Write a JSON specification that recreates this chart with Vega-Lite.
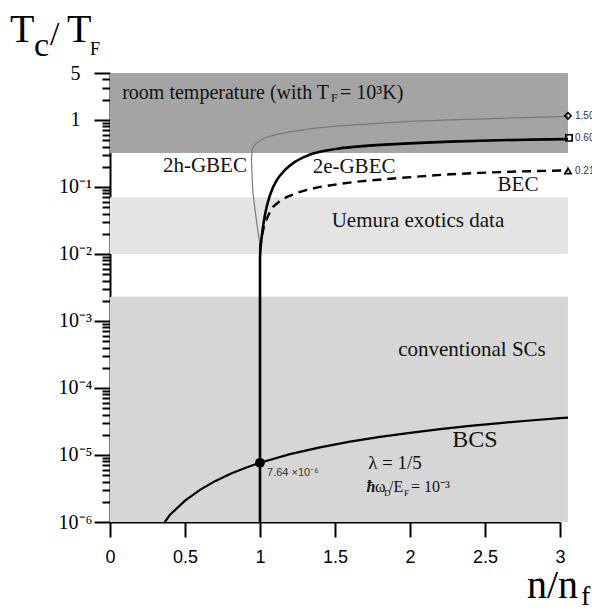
{
  "$schema": "https://vega.github.io/schema/vega-lite/v6.json",
  "width": 450,
  "height": 449,
  "autosize": {"type": "none"},
  "padding": {"left": 110, "top": 73, "right": 32, "bottom": 88},
  "background": "white",
  "config": {"view": {"stroke": null}, "axis": {"grid": false}},
  "datasets": {
    "bands": [
      {"b": "room", "x1": 0, "x2": 3.053, "lo": 0.32, "hi": 5},
      {"b": "uemura", "x1": 0, "x2": 3.053, "lo": 0.01, "hi": 0.07},
      {"b": "conv", "x1": 0, "x2": 3.053, "lo": 1e-6, "hi": 0.0023}
    ],
    "curves": [
      {"s": "e", "i": 0, "x": 1.0, "y": 1e-6},
      {"s": "e", "i": 1, "x": 1.0, "y": 0.00902},
      {"s": "e", "i": 2, "x": 1.013, "y": 0.0192},
      {"s": "e", "i": 3, "x": 1.033, "y": 0.0382},
      {"s": "e", "i": 4, "x": 1.067, "y": 0.076},
      {"s": "e", "i": 5, "x": 1.113, "y": 0.127},
      {"s": "e", "i": 6, "x": 1.167, "y": 0.179},
      {"s": "e", "i": 7, "x": 1.233, "y": 0.236},
      {"s": "e", "i": 8, "x": 1.313, "y": 0.29},
      {"s": "e", "i": 9, "x": 1.4, "y": 0.333},
      {"s": "e", "i": 10, "x": 1.533, "y": 0.3755},
      {"s": "e", "i": 11, "x": 1.667, "y": 0.402},
      {"s": "e", "i": 12, "x": 1.867, "y": 0.431},
      {"s": "e", "i": 13, "x": 2.067, "y": 0.4535},
      {"s": "e", "i": 14, "x": 2.267, "y": 0.4727},
      {"s": "e", "i": 15, "x": 2.533, "y": 0.4926},
      {"s": "e", "i": 16, "x": 2.8, "y": 0.5064},
      {"s": "e", "i": 17, "x": 3.053, "y": 0.517},
      {"s": "b", "i": 0, "x": 1.0, "y": 0.0115},
      {"s": "b", "i": 1, "x": 1.013, "y": 0.0192},
      {"s": "b", "i": 2, "x": 1.033, "y": 0.029},
      {"s": "b", "i": 3, "x": 1.06, "y": 0.0395},
      {"s": "b", "i": 4, "x": 1.087, "y": 0.0503},
      {"s": "b", "i": 5, "x": 1.133, "y": 0.0618},
      {"s": "b", "i": 6, "x": 1.18, "y": 0.0709},
      {"s": "b", "i": 7, "x": 1.247, "y": 0.0813},
      {"s": "b", "i": 8, "x": 1.313, "y": 0.0902},
      {"s": "b", "i": 9, "x": 1.4, "y": 0.1},
      {"s": "b", "i": 10, "x": 1.533, "y": 0.111},
      {"s": "b", "i": 11, "x": 1.667, "y": 0.121},
      {"s": "b", "i": 12, "x": 1.867, "y": 0.132},
      {"s": "b", "i": 13, "x": 2.067, "y": 0.1435},
      {"s": "b", "i": 14, "x": 2.267, "y": 0.154},
      {"s": "b", "i": 15, "x": 2.467, "y": 0.162},
      {"s": "b", "i": 16, "x": 2.733, "y": 0.17},
      {"s": "b", "i": 17, "x": 3.053, "y": 0.176},
      {"s": "h", "i": 0, "x": 1.0, "y": 0.0136},
      {"s": "h", "i": 1, "x": 0.993, "y": 0.0173},
      {"s": "h", "i": 2, "x": 0.98, "y": 0.0271},
      {"s": "h", "i": 3, "x": 0.967, "y": 0.0454},
      {"s": "h", "i": 4, "x": 0.953, "y": 0.0813},
      {"s": "h", "i": 5, "x": 0.947, "y": 0.151},
      {"s": "h", "i": 6, "x": 0.943, "y": 0.253},
      {"s": "h", "i": 7, "x": 0.947, "y": 0.357},
      {"s": "h", "i": 8, "x": 0.96, "y": 0.409},
      {"s": "h", "i": 9, "x": 0.987, "y": 0.469},
      {"s": "h", "i": 10, "x": 1.033, "y": 0.539},
      {"s": "h", "i": 11, "x": 1.1, "y": 0.597},
      {"s": "h", "i": 12, "x": 1.2, "y": 0.662},
      {"s": "h", "i": 13, "x": 1.353, "y": 0.747},
      {"s": "h", "i": 14, "x": 1.533, "y": 0.814},
      {"s": "h", "i": 15, "x": 1.733, "y": 0.872},
      {"s": "h", "i": 16, "x": 2.0, "y": 0.95},
      {"s": "h", "i": 17, "x": 2.267, "y": 1.0},
      {"s": "h", "i": 18, "x": 2.6, "y": 1.053},
      {"s": "h", "i": 19, "x": 3.053, "y": 1.128},
      {"s": "s", "i": 0, "x": 0.365, "y": 1.0e-6},
      {"s": "s", "i": 1, "x": 0.4, "y": 1.28e-6},
      {"s": "s", "i": 2, "x": 0.5, "y": 2.08e-6},
      {"s": "s", "i": 3, "x": 0.6, "y": 3.02e-6},
      {"s": "s", "i": 4, "x": 0.7, "y": 4.07e-6},
      {"s": "s", "i": 5, "x": 0.8, "y": 5.2e-6},
      {"s": "s", "i": 6, "x": 0.9, "y": 6.39e-6},
      {"s": "s", "i": 7, "x": 1.0, "y": 7.64e-6},
      {"s": "s", "i": 8, "x": 1.2, "y": 1.03e-5},
      {"s": "s", "i": 9, "x": 1.4, "y": 1.3e-5},
      {"s": "s", "i": 10, "x": 1.6, "y": 1.58e-5},
      {"s": "s", "i": 11, "x": 1.8, "y": 1.86e-5},
      {"s": "s", "i": 12, "x": 2.0, "y": 2.14e-5},
      {"s": "s", "i": 13, "x": 2.2, "y": 2.43e-5},
      {"s": "s", "i": 14, "x": 2.4, "y": 2.71e-5},
      {"s": "s", "i": 15, "x": 2.6, "y": 2.99e-5},
      {"s": "s", "i": 16, "x": 2.8, "y": 3.27e-5},
      {"s": "s", "i": 17, "x": 3.0, "y": 3.54e-5},
      {"s": "s", "i": 18, "x": 3.053, "y": 3.61e-5}
    ]
  },
  "layer": [
    {
      "data": {"name": "bands"},
      "mark": {"type": "rect", "clip": false},
      "encoding": {
        "x": {
          "field": "x1", "type": "quantitative", "title": null,
          "scale": {"domain": [0, 3], "nice": false, "zero": false},
          "axis": {
            "title": null, "values": [0, 0.5, 1, 1.5, 2, 2.5, 3], "format": ".1~f",
            "tickSize": 15, "tickWidth": 2, "tickColor": "black",
            "domainColor": "black", "domainWidth": 2,
            "labelFont": "Liberation Sans, Arial, sans-serif", "labelFontSize": 18, "labelColor": "black",
            "labelPadding": 11, "labelFlush": false, "labelBound": false, "labelOverlap": false
          }
        },
        "x2": {"field": "x2"},
        "y": {
          "field": "lo", "type": "quantitative", "title": null,
          "scale": {"type": "log", "domain": [1e-6, 5], "nice": false},
          "axis": {
            "title": null,
            "values": [1e-6, 2e-6, 3e-6, 4e-6, 5e-6, 6e-6, 7e-6, 8e-6, 9e-6,
                       1e-5, 2e-5, 3e-5, 4e-5, 5e-5, 6e-5, 7e-5, 8e-5, 9e-5,
                       1e-4, 2e-4, 3e-4, 4e-4, 5e-4, 6e-4, 7e-4, 8e-4, 9e-4,
                       1e-3, 2e-3, 3e-3, 4e-3, 5e-3, 6e-3, 7e-3, 8e-3, 9e-3,
                       0.01, 0.02, 0.03, 0.04, 0.05, 0.06, 0.07, 0.08, 0.09,
                       0.1, 0.2, 0.3, 0.4, 0.5, 0.6, 0.7, 0.8, 0.9,
                       1, 2, 3, 4, 5],
            "labelExpr": "datum.value == 5 ? '5' : (datum.value == 1 ? '1' : (abs(log(datum.value)/LN10 - round(log(datum.value)/LN10)) < 0.001 ? '10' + ['', '⁻¹', '⁻²', '⁻³', '⁻⁴', '⁻⁵', '⁻⁶'][-round(log(datum.value)/LN10)] : ''))",
            "tickSize": 16, "tickWidth": 2, "tickColor": "black",
            "tickDash": {"condition": {"test": "abs(log(datum.value)/LN10 - round(log(datum.value)/LN10)) > 0.001 && datum.value != 5", "value": [8, 30]}, "value": []},
            "domainColor": "black", "domainWidth": 2,
            "labelFont": "Liberation Serif, Times New Roman, serif", "labelFontSize": 20, "labelColor": "black",
            "labelAlign": "center", "labelPadding": 19,
            "labelFlush": false, "labelBound": false, "labelOverlap": false
          }
        },
        "y2": {"field": "hi"},
        "color": {"field": "b", "type": "nominal", "scale": {"domain": ["room", "uemura", "conv"], "range": ["#a4a4a4", "#e4e4e4", "#d6d6d6"]}, "legend": null}
      }
    },
    {
      "data": {"name": "curves"},
      "transform": [{"filter": "datum.s == 'h'"}],
      "mark": {"type": "line", "clip": false, "color": "#7a7a7a", "strokeWidth": 1.2},
      "encoding": {
        "x": {"field": "x", "type": "quantitative", "title": null},
        "y": {"field": "y", "type": "quantitative", "title": null},
        "order": {"field": "i", "type": "quantitative"}
      }
    },
    {
      "data": {"name": "curves"},
      "transform": [{"filter": "datum.s == 'b'"}],
      "mark": {"type": "line", "clip": false, "color": "black", "strokeWidth": 2.4, "strokeDash": [9, 6]},
      "encoding": {
        "x": {"field": "x", "type": "quantitative", "title": null},
        "y": {"field": "y", "type": "quantitative", "title": null},
        "order": {"field": "i", "type": "quantitative"}
      }
    },
    {
      "data": {"name": "curves"},
      "transform": [{"filter": "datum.s == 'e'"}],
      "mark": {"type": "line", "clip": false, "color": "black", "strokeWidth": 2.6, "interpolate": "monotone"},
      "encoding": {
        "x": {"field": "x", "type": "quantitative", "title": null},
        "y": {"field": "y", "type": "quantitative", "title": null},
        "order": {"field": "i", "type": "quantitative"}
      }
    },
    {
      "data": {"name": "curves"},
      "transform": [{"filter": "datum.s == 's'"}],
      "mark": {"type": "line", "clip": false, "color": "black", "strokeWidth": 2.2},
      "encoding": {
        "x": {"field": "x", "type": "quantitative", "title": null},
        "y": {"field": "y", "type": "quantitative", "title": null},
        "order": {"field": "i", "type": "quantitative"}
      }
    },
    {
      "data": {"values": [{"x": 1, "y": 7.64e-6}]},
      "mark": {"type": "point", "filled": true, "color": "black", "size": 95, "opacity": 1, "clip": false},
      "encoding": {
        "x": {"field": "x", "type": "quantitative", "title": null},
        "y": {"field": "y", "type": "quantitative", "title": null}
      }
    },
    {
      "data": {"values": [{"m": "d", "x": 3.053, "y": 1.147}, {"m": "s", "x": 3.06, "y": 0.539}, {"m": "t", "x": 3.053, "y": 0.173}]},
      "mark": {"type": "point", "filled": false, "stroke": "black", "strokeWidth": 1.6, "size": 40, "opacity": 1, "clip": false},
      "encoding": {
        "x": {"field": "x", "type": "quantitative", "title": null},
        "y": {"field": "y", "type": "quantitative", "title": null},
        "shape": {"field": "m", "type": "nominal", "scale": {"domain": ["d", "s", "t"], "range": ["diamond", "square", "triangle-up"]}, "legend": null}
      }
    },
    {
      "data": {"values": [{"t": "1.50", "x": 3.1, "y": 1.147}, {"t": "0.60", "x": 3.1, "y": 0.539}, {"t": "0.218", "x": 3.1, "y": 0.173}]},
      "mark": {"type": "text", "font": "Liberation Sans, Arial, sans-serif", "fontSize": 10, "color": "#333", "align": "left", "baseline": "middle", "clip": false},
      "encoding": {
        "x": {"field": "x", "type": "quantitative", "title": null},
        "y": {"field": "y", "type": "quantitative", "title": null},
        "text": {"field": "t"}
      }
    },
    {
      "data": {"values": [{"t": "T", "x": -0.667, "y": 14.6}, {"t": "T", "x": -0.287, "y": 14.6}, {"t": "n/n", "x": 2.78, "y": 7.34e-8}]},
      "mark": {"type": "text", "font": "Liberation Serif, Times New Roman, serif", "fontSize": 40, "color": "black", "align": "left", "baseline": "alphabetic", "clip": false},
      "encoding": {
        "x": {"field": "x", "type": "quantitative", "title": null},
        "y": {"field": "y", "type": "quantitative", "title": null},
        "text": {"field": "t"}
      }
    },
    {
      "data": {"values": [{"t": "c", "x": -0.507, "y": 9.02}, {"t": "/", "x": -0.4, "y": 13.2}]},
      "mark": {"type": "text", "font": "Liberation Serif, Times New Roman, serif", "fontSize": 34, "color": "black", "align": "left", "baseline": "alphabetic", "clip": false},
      "encoding": {
        "x": {"field": "x", "type": "quantitative", "title": null},
        "y": {"field": "y", "type": "quantitative", "title": null},
        "text": {"field": "t"}
      }
    },
    {
      "data": {"values": [{"t": "F", "x": -0.133, "y": 9.34}]},
      "mark": {"type": "text", "font": "Liberation Serif, Times New Roman, serif", "fontSize": 18, "color": "black", "align": "left", "baseline": "alphabetic", "clip": false},
      "encoding": {
        "x": {"field": "x", "type": "quantitative", "title": null},
        "y": {"field": "y", "type": "quantitative", "title": null},
        "text": {"field": "t"}
      }
    },
    {
      "data": {"values": [{"t": "f", "x": 3.14, "y": 5.77e-8}]},
      "mark": {"type": "text", "font": "Liberation Serif, Times New Roman, serif", "fontSize": 28, "color": "black", "align": "left", "baseline": "alphabetic", "clip": false},
      "encoding": {
        "x": {"field": "x", "type": "quantitative", "title": null},
        "y": {"field": "y", "type": "quantitative", "title": null},
        "text": {"field": "t"}
      }
    },
    {
      "data": {"values": [
        {"t": "2h-GBEC", "x": 0.633, "y": 0.206},
        {"t": "2e-GBEC", "x": 1.627, "y": 0.199},
        {"t": "BEC", "x": 2.72, "y": 0.107},
        {"t": "Uemura exotics data", "x": 2.053, "y": 0.0312},
        {"t": "conventional SCs", "x": 2.413, "y": 3.69e-4}
      ]},
      "mark": {"type": "text", "font": "Liberation Serif, Times New Roman, serif", "fontSize": 21, "color": "#111", "align": "center", "baseline": "middle", "clip": false},
      "encoding": {
        "x": {"field": "x", "type": "quantitative", "title": null},
        "y": {"field": "y", "type": "quantitative", "title": null},
        "text": {"field": "t"}
      }
    },
    {
      "data": {"values": [{"t": "room temperature (with T", "x": 1.46, "y": 2.53}]},
      "mark": {"type": "text", "font": "Liberation Serif, Times New Roman, serif", "fontSize": 20, "color": "#111", "align": "right", "baseline": "middle", "clip": false},
      "encoding": {
        "x": {"field": "x", "type": "quantitative", "title": null},
        "y": {"field": "y", "type": "quantitative", "title": null},
        "text": {"field": "t"}
      }
    },
    {
      "data": {"values": [{"t": "= 10³K)", "x": 1.533, "y": 2.53}]},
      "mark": {"type": "text", "font": "Liberation Serif, Times New Roman, serif", "fontSize": 20, "color": "#111", "align": "left", "baseline": "middle", "clip": false},
      "encoding": {
        "x": {"field": "x", "type": "quantitative", "title": null},
        "y": {"field": "y", "type": "quantitative", "title": null},
        "text": {"field": "t"}
      }
    },
    {
      "data": {"values": [{"t": "F", "x": 1.473, "y": 2.13}]},
      "mark": {"type": "text", "font": "Liberation Serif, Times New Roman, serif", "fontSize": 12, "color": "#111", "align": "left", "baseline": "middle", "clip": false},
      "encoding": {
        "x": {"field": "x", "type": "quantitative", "title": null},
        "y": {"field": "y", "type": "quantitative", "title": null},
        "text": {"field": "t"}
      }
    },
    {
      "data": {"values": [{"t": "BCS", "x": 2.433, "y": 1.66e-5}]},
      "mark": {"type": "text", "font": "Liberation Serif, Times New Roman, serif", "fontSize": 24, "color": "#111", "align": "center", "baseline": "middle", "clip": false},
      "encoding": {
        "x": {"field": "x", "type": "quantitative", "title": null},
        "y": {"field": "y", "type": "quantitative", "title": null},
        "text": {"field": "t"}
      }
    },
    {
      "data": {"values": [{"t": "λ = 1/5", "x": 1.9, "y": 7.5e-6}]},
      "mark": {"type": "text", "font": "Liberation Serif, Times New Roman, serif", "fontSize": 19, "color": "#111", "align": "center", "baseline": "middle", "clip": false},
      "encoding": {
        "x": {"field": "x", "type": "quantitative", "title": null},
        "y": {"field": "y", "type": "quantitative", "title": null},
        "text": {"field": "t"}
      }
    },
    {
      "data": {"values": [{"t": "ħ", "x": 1.71, "y": 2.8e-6}]},
      "mark": {"type": "text", "font": "Liberation Serif, Times New Roman, serif", "fontSize": 16, "fontStyle": "italic", "fontWeight": "bold", "color": "#111", "align": "left", "baseline": "alphabetic", "clip": false},
      "encoding": {
        "x": {"field": "x", "type": "quantitative", "title": null},
        "y": {"field": "y", "type": "quantitative", "title": null},
        "text": {"field": "t"}
      }
    },
    {
      "data": {"values": [{"t": "ω", "x": 1.767, "y": 2.8e-6}, {"t": "/E", "x": 1.86, "y": 2.8e-6}, {"t": "= 10⁻³", "x": 2.007, "y": 2.8e-6}]},
      "mark": {"type": "text", "font": "Liberation Serif, Times New Roman, serif", "fontSize": 16, "color": "#111", "align": "left", "baseline": "alphabetic", "clip": false},
      "encoding": {
        "x": {"field": "x", "type": "quantitative", "title": null},
        "y": {"field": "y", "type": "quantitative", "title": null},
        "text": {"field": "t"}
      }
    },
    {
      "data": {"values": [{"t": "D", "x": 1.827, "y": 2.44e-6}, {"t": "F", "x": 1.96, "y": 2.44e-6}]},
      "mark": {"type": "text", "font": "Liberation Serif, Times New Roman, serif", "fontSize": 9, "color": "#111", "align": "left", "baseline": "alphabetic", "clip": false},
      "encoding": {
        "x": {"field": "x", "type": "quantitative", "title": null},
        "y": {"field": "y", "type": "quantitative", "title": null},
        "text": {"field": "t"}
      }
    },
    {
      "data": {"values": [{"t": "7.64 ×10⁻⁶", "x": 1.047, "y": 5.38e-6}]},
      "mark": {"type": "text", "font": "Liberation Sans, Arial, sans-serif", "fontSize": 11, "color": "#333", "align": "left", "baseline": "middle", "clip": false},
      "encoding": {
        "x": {"field": "x", "type": "quantitative", "title": null},
        "y": {"field": "y", "type": "quantitative", "title": null},
        "text": {"field": "t"}
      }
    }
  ]
}
